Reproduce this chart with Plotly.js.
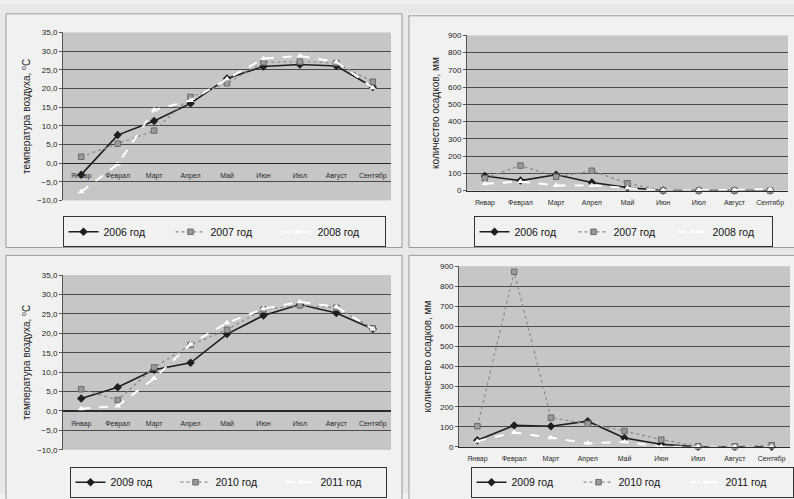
<!DOCTYPE html>
<html><head><meta charset="utf-8">
<script src="https://cdn.plot.ly/plotly-3.0.1.min.js"></script>
<style>html,body{margin:0;padding:0;background:#e8e8ea;} #chart{width:794px;height:499px;}</style>
</head><body><div id="chart"></div>
<script>
const months = ['Январ','Феврал','Март','Апрел','Май','Июн','Июл','Август','Сентябр'];
const temp2006 = [-3.1, 7.5, 11.3, 16.0, 22.7, 25.9, 26.4, 26.0, 20.4];
const temp2007 = [1.7, 5.2, 8.7, 17.7, 21.4, 27.0, 27.2, 26.8, 21.8];
const temp2008 = [-7.7, -0.3, 14.2, 16.8, 22.5, 28.0, 28.7, 27.1, 20.2];
const precip2006 = [85, 58, 92, 47, 18, 0, 0, 0, 0];
const precip2007 = [72, 145, 80, 115, 42, 0, 0, 0, 0];
const precip2008 = [40, 52, 30, 30, 15, 0, 3, 3, 8];
const temp2009 = [3.2, 6.1, 10.6, 12.4, 19.8, 24.6, 27.4, 25.2, 21.1];
const temp2010 = [5.6, 2.8, 11.2, 17.0, 20.9, 26.1, 27.2, 26.6, 21.3];
const temp2011 = [0.6, 1.3, 8.4, 17.2, 22.7, 26.3, 28.1, 26.8, 21.1];
const precip2009 = [33, 107, 103, 128, 44, 13, 0, 0, 0];
const precip2010 = [103, 872, 145, 115, 79, 36, 3, 2, 8];
const precip2011 = [28, 72, 46, 18, 25, 0, 0, 0, 0];
const yearsTop = ['2006 год', '2007 год', '2008 год'];
const yearsBottom = ['2009 год', '2010 год', '2011 год'];
const tempTitle = 'температура воздуха, <sup>o</sup>С';
const precipTitle = 'количество осадков, мм';

const W = 794, H = 499;
const px = v => v / W, py = v => 1 - v / H;
const tRange = [-10, 35], pRange = [0, 900];
const dom = {
  x1: [px(63), px(391)], y1: [py(200), py(29)],
  x2: [px(467), px(788)], y2: [py(190), py(32)],
  x3: [px(63), px(391)], y3: [py(454), py(276)],
  x4: [px(459), px(790)], y4: [py(451), py(267)]
};
function zeroPos(d, r) { return d[0] + (0 - r[0]) / (r[1] - r[0]) * (d[1] - d[0]); }

const styles = [
  {line: {color: '#1e1e1e', width: 1.6, dash: 'solid'}, marker: {symbol: 'diamond', size: 6.5, color: '#1e1e1e'}},
  {line: {color: '#8a8a8a', width: 1.2, dash: 'dot'}, marker: {symbol: 'square', size: 5.5, color: '#9a9a9a', line: {color: '#6a6a6a', width: 1}}},
  {line: {color: '#ffffff', width: 2, dash: 'dash'}, marker: {symbol: 'triangle-up', size: 6, color: '#ffffff'}}
];
function mk(ys, name, k, xa, ya, lg) {
  return {x: months, y: ys, name: name, type: 'scatter', mode: 'lines+markers',
    xaxis: xa, yaxis: ya, legend: lg, line: styles[k].line, marker: styles[k].marker,
    cliponaxis: false};
}
const data = [
  mk(temp2006, yearsTop[0], 0, 'x', 'y', 'legend'),
  mk(temp2007, yearsTop[1], 1, 'x', 'y', 'legend'),
  mk(temp2008, yearsTop[2], 2, 'x', 'y', 'legend'),
  mk(precip2006, yearsTop[0], 0, 'x2', 'y2', 'legend2'),
  mk(precip2007, yearsTop[1], 1, 'x2', 'y2', 'legend2'),
  mk(precip2008, yearsTop[2], 2, 'x2', 'y2', 'legend2'),
  mk(temp2009, yearsBottom[0], 0, 'x3', 'y3', 'legend3'),
  mk(temp2010, yearsBottom[1], 1, 'x3', 'y3', 'legend3'),
  mk(temp2011, yearsBottom[2], 2, 'x3', 'y3', 'legend3'),
  mk(precip2009, yearsBottom[0], 0, 'x4', 'y4', 'legend4'),
  mk(precip2010, yearsBottom[1], 1, 'x4', 'y4', 'legend4'),
  mk(precip2011, yearsBottom[2], 2, 'x4', 'y4', 'legend4')
];
const font = {family: 'Liberation Sans, Arial, sans-serif', color: '#222'};
function xax(d, extra) {
  return Object.assign({domain: d, type: 'category', range: [-0.5, 8.5], showgrid: false,
    showline: true, linecolor: '#2a2a2a', linewidth: 1.2, ticks: 'outside', ticklen: 5,
    tickcolor: 'rgba(0,0,0,0)', zeroline: false,
    tickfont: {size: 7, color: '#2a2a2a'}, fixedrange: true}, extra);
}
function yax(d, r, dt, fmt, title, anchor, so) {
  return {domain: d, range: r, dtick: dt, tickformat: fmt, anchor: anchor, automargin: true,
    showgrid: true, gridcolor: '#4a4a4a', gridwidth: 1, zeroline: true, zerolinecolor: '#2a2a2a',
    showline: true, linecolor: '#555', ticks: 'outside', ticklen: 3, tickcolor: '#555',
    tickfont: {size: 8, color: '#222'},
    title: {text: title, font: {size: 10, color: '#222'}, standoff: so}, fixedrange: true};
}
function leg(xc, yc, ew) {
  return {orientation: 'h', x: px(xc), y: py(yc), xanchor: 'center', yanchor: 'middle',
    bgcolor: '#f1f1f1', bordercolor: '#333', borderwidth: 1, font: {size: 10.5, color: '#111'},
    itemwidth: 30, entrywidth: ew, traceorder: 'normal', itemclick: false};
}
function frame(x0, y0, x1, y1) {
  return {type: 'rect', xref: 'paper', yref: 'paper', x0: px(x0), x1: px(x1), y0: py(y1), y1: py(y0),
    line: {color: '#9a9a9a', width: 1}, fillcolor: 'rgba(0,0,0,0)', layer: 'below'};
}
function strip(x0, y0, x1, y1) {
  return {type: 'rect', xref: 'paper', yref: 'paper', x0: px(x0), x1: px(x1), y0: py(y1), y1: py(y0),
    line: {width: 0}, fillcolor: '#e8e8ea', layer: 'below'};
}
const layout = {
  width: W, height: H, margin: {l: 0, r: 0, t: 0, b: 0},
  paper_bgcolor: '#f1f1f1', plot_bgcolor: '#c6c6c6', font: font, separators: ', ',
  showlegend: true,
  xaxis: xax(dom.x1, {anchor: 'free', position: zeroPos(dom.y1, tRange)}),
  yaxis: yax(dom.y1, tRange, 5, '.1f', tempTitle, 'x', 4),
  xaxis2: xax(dom.x2, {anchor: 'y2'}),
  yaxis2: yax(dom.y2, pRange, 100, 'd', precipTitle, 'x2', 6),
  xaxis3: xax(dom.x3, {anchor: 'free', position: zeroPos(dom.y3, tRange)}),
  yaxis3: yax(dom.y3, tRange, 5, '.1f', tempTitle, 'x3', 4),
  xaxis4: xax(dom.x4, {anchor: 'y4'}),
  yaxis4: yax(dom.y4, pRange, 100, 'd', precipTitle, 'x4', 6),
  legend: leg(224, 232, 62),
  legend2: leg(623, 232, 54),
  legend3: leg(228, 487, 60),
  legend4: leg(632, 487, 62),
  shapes: [
    strip(0, 0, 794, 10), strip(0, 0, 6, 499), strip(402, 0, 409, 499), strip(0, 248, 794, 256),
    frame(6, 10, 402, 248), frame(409, 12, 800, 248), frame(6, 256, 402, 505), frame(409, 256, 800, 505)
  ]
};
Plotly.newPlot('chart', data, layout, {displayModeBar: false, staticPlot: true});
</script></body></html>
